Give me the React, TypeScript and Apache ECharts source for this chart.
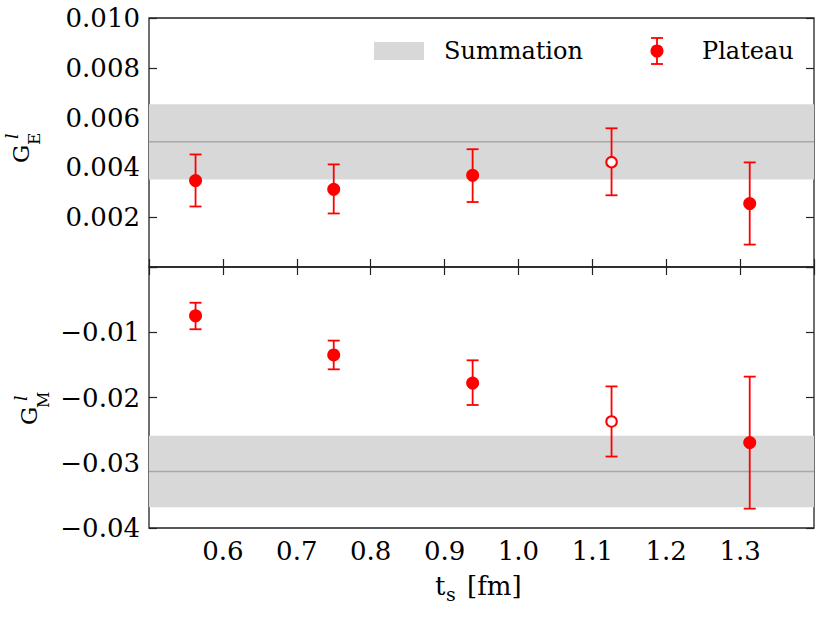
import React, { useEffect, useRef } from "react";
import * as echarts from "echarts";

// ---- data ----
const tsValues = [0.563, 0.75, 0.938, 1.126, 1.313];
const geValues = [0.00347, 0.00312, 0.00368, 0.00421, 0.00255];
const geLower = [0.00243, 0.00215, 0.00261, 0.00288, 0.0009];
const geUpper = [0.00452, 0.00412, 0.00473, 0.00557, 0.0042];
const gmValues = [-0.00748, -0.01347, -0.01778, -0.02367, -0.0269];
const gmLower = [-0.00954, -0.01568, -0.02115, -0.02905, -0.03703];
const gmUpper = [-0.00548, -0.01128, -0.0143, -0.0183, -0.0168];
const openIndex = [3]; // hollow (excluded) point
// summation band: [lower, central, upper]
const summationGE = [0.00351, 0.00503, 0.00654];
const summationGM = [-0.03682, -0.03135, -0.02587];

const xMin = 0.5;
const xMax = 1.4;

const FONT = "DejaVu Serif";
const RED = "#ff0000";
const BAND = "#d8d8d8";
const BAND_LINE = "#a8a8a8";

function bandSeries(idx: number, band: number[]) {
  return {
    type: "custom",
    xAxisIndex: idx === 0 ? 0 : 1,
    yAxisIndex: idx === 0 ? 0 : 2,
    z: 1,
    data: [band],
    renderItem: (params: any, api: any) => {
      const cs = params.coordSys;
      const yLo = api.coord([xMin, api.value(0)])[1];
      const yC = api.coord([xMin, api.value(1)])[1];
      const yHi = api.coord([xMin, api.value(2)])[1];
      return {
        type: "group",
        children: [
          {
            type: "rect",
            shape: { x: cs.x, y: yHi, width: cs.width, height: yLo - yHi },
            style: { fill: BAND },
          },
          {
            type: "line",
            shape: { x1: cs.x, y1: yC, x2: cs.x + cs.width, y2: yC },
            style: { stroke: BAND_LINE, lineWidth: 1.5 },
          },
        ],
      };
    },
  };
}

function errorSeries(idx: number, lower: number[], upper: number[]) {
  return {
    type: "custom",
    xAxisIndex: idx === 0 ? 0 : 1,
    yAxisIndex: idx === 0 ? 0 : 2,
    z: 3,
    encode: { x: 0, y: [1, 2] },
    data: tsValues.map((t, i) => [t, lower[i], upper[i]]),
    renderItem: (params: any, api: any) => {
      const top = api.coord([api.value(0), api.value(2)]);
      const bot = api.coord([api.value(0), api.value(1)]);
      const hw = 6;
      const st = { stroke: RED, lineWidth: 1.8 };
      return {
        type: "group",
        children: [
          { type: "line", shape: { x1: top[0], y1: top[1], x2: bot[0], y2: bot[1] }, style: st },
          { type: "line", shape: { x1: top[0] - hw, y1: top[1], x2: top[0] + hw, y2: top[1] }, style: st },
          { type: "line", shape: { x1: bot[0] - hw, y1: bot[1], x2: bot[0] + hw, y2: bot[1] }, style: st },
        ],
      };
    },
  };
}

function pointSeries(idx: number, values: number[]) {
  const filled = tsValues
    .map((t, i) => [t, values[i], i])
    .filter((d) => !openIndex.includes(d[2] as number))
    .map((d) => [d[0], d[1]]);
  const hollow = tsValues
    .map((t, i) => [t, values[i], i])
    .filter((d) => openIndex.includes(d[2] as number))
    .map((d) => [d[0], d[1]]);
  const xa = idx === 0 ? 0 : 1;
  const ya = idx === 0 ? 0 : 2;
  return [
    {
      type: "scatter",
      name: "Plateau",
      xAxisIndex: xa,
      yAxisIndex: ya,
      z: 4,
      symbol: "circle",
      symbolSize: 13,
      itemStyle: { color: RED, opacity: 1 },
      data: filled,
    },
    {
      type: "scatter",
      xAxisIndex: xa,
      yAxisIndex: ya,
      z: 4,
      symbol: "circle",
      symbolSize: 10.5,
      itemStyle: { color: "#ffffff", borderColor: RED, borderWidth: 2, opacity: 1 },
      data: hollow,
    },
  ];
}

const tickStyle = { inside: true, length: 8, lineStyle: { color: "#222", width: 1.2 } };
const labelStyle = { fontFamily: FONT, fontSize: 26, color: "#000" };

function yName(x: number, y: number, sub: string, subSize: number, subX: number, subY: number, supY: number) {
  return {
    type: "group", x, y, rotation: Math.PI / 2, z: 10,
    children: [
      { type: "text", x: 0, y: 0, style: { text: "G", fontFamily: FONT, fontSize: 23, fill: "#000", verticalAlign: "middle", align: "left" } },
      { type: "text", x: subX, y: subY, style: { text: sub, fontFamily: FONT, fontSize: subSize, fill: "#000", verticalAlign: "middle", align: "left" } },
      { type: "text", x: 24, y: supY, style: { text: "l", fontFamily: FONT, fontSize: 17, fontStyle: "italic", fill: "#000", verticalAlign: "middle", align: "left" } },
    ],
  };
}

export default function App() {
  const ref = useRef<HTMLDivElement>(null);
  useEffect(() => {
    if (!ref.current) return;
    const chart = echarts.init(ref.current, undefined, { renderer: "svg" });
    const option: any = {
      animation: false,
      backgroundColor: "#ffffff",
      grid: [
        { left: 149, top: 18, width: 665, height: 249, show: true, borderColor: "#222", borderWidth: 1.3, backgroundColor: "transparent" },
        { left: 149, top: 267, width: 665, height: 261, show: true, borderColor: "#222", borderWidth: 1.3, backgroundColor: "transparent" },
      ],
      xAxis: [
        {
          gridIndex: 0, type: "value", min: xMin, max: xMax, interval: 0.1,
          axisLine: { show: false }, axisTick: { show: false }, axisLabel: { show: false }, splitLine: { show: false },
        },
        {
          gridIndex: 1, type: "value", min: xMin, max: xMax, interval: 0.1, position: "bottom",
          axisLine: { show: false }, axisTick: tickStyle, splitLine: { show: false },
          axisLabel: {
            ...labelStyle, margin: 10,
            formatter: (v: number) => (Math.abs(v - xMin) < 1e-9 || Math.abs(v - xMax) < 1e-9 ? "" : v.toFixed(1)),
          },
        },
        {
          gridIndex: 1, type: "value", min: xMin, max: xMax, interval: 0.1, position: "top",
          axisLine: { show: false }, axisTick: tickStyle, axisLabel: { show: false }, splitLine: { show: false },
        },
      ],
      yAxis: [
        {
          gridIndex: 0, type: "value", min: 0, max: 0.01, interval: 0.002, position: "left",
          axisLine: { show: false }, axisTick: tickStyle, splitLine: { show: false },
          axisLabel: { ...labelStyle, margin: 9, showMaxLabel: true, formatter: (v: number) => (Math.abs(v) < 1e-9 ? "" : v.toFixed(3)) },
        },
        {
          gridIndex: 0, type: "value", min: 0, max: 0.01, interval: 0.002, position: "right",
          axisLine: { show: false }, axisTick: tickStyle, axisLabel: { show: false }, splitLine: { show: false },
        },
        {
          gridIndex: 1, type: "value", min: -0.04, max: 0, interval: 0.01, position: "left",
          axisLine: { show: false }, axisTick: tickStyle, splitLine: { show: false },
          axisLabel: {
            ...labelStyle, margin: 9, showMinLabel: true,
            formatter: (v: number) => (Math.abs(v) < 1e-9 ? "" : "\u2212" + Math.abs(v).toFixed(2)),
          },
        },
        {
          gridIndex: 1, type: "value", min: -0.04, max: 0, interval: 0.01, position: "right",
          axisLine: { show: false }, axisTick: tickStyle, axisLabel: { show: false }, splitLine: { show: false },
        },
      ],
      series: [
        bandSeries(0, summationGE),
        bandSeries(1, summationGM),
        errorSeries(0, geLower, geUpper),
        errorSeries(1, gmLower, gmUpper),
        ...pointSeries(0, geValues),
        ...pointSeries(1, gmValues),
      ],
      graphic: [
        // legend
        { type: "rect", shape: { x: 374, y: 42, width: 50, height: 18 }, style: { fill: BAND }, z: 10 },
        { type: "text", x: 444, y: 51, style: { text: "Summation", fontFamily: FONT, fontSize: 24, fill: "#000", verticalAlign: "middle", align: "left" }, z: 10 },
        { type: "line", shape: { x1: 657, y1: 38, x2: 657, y2: 64 }, style: { stroke: RED, lineWidth: 1.8 }, z: 10 },
        { type: "line", shape: { x1: 651, y1: 38, x2: 663, y2: 38 }, style: { stroke: RED, lineWidth: 1.8 }, z: 10 },
        { type: "line", shape: { x1: 651, y1: 64, x2: 663, y2: 64 }, style: { stroke: RED, lineWidth: 1.8 }, z: 10 },
        { type: "circle", shape: { cx: 657, cy: 51, r: 6.5 }, style: { fill: RED }, z: 10 },
        { type: "text", x: 702, y: 51, style: { text: "Plateau", fontFamily: FONT, fontSize: 24, fill: "#000", verticalAlign: "middle", align: "left" }, z: 10 },
        // y axis names
        yName(21, 163, "E", 17, 18, 13, -9),
        yName(29, 425, "M", 16, 17, 14, -8),
        // x axis name
        { type: "text", x: 435, y: 599, style: { text: "t", fontFamily: FONT, fontSize: 26, fill: "#000", verticalAlign: "bottom", align: "left" }, z: 10 },
        { type: "text", x: 446, y: 603, style: { text: "s", fontFamily: FONT, fontSize: 19, fill: "#000", verticalAlign: "bottom", align: "left" }, z: 10 },
        { type: "text", x: 467, y: 599, style: { text: "[fm]", fontFamily: FONT, fontSize: 26, fill: "#000", verticalAlign: "bottom", align: "left" }, z: 10 },
      ],
    };
    chart.setOption(option);
    return () => chart.dispose();
  }, []);
  return <div ref={ref} style={{ position: "absolute", left: 0, top: 0, width: 830, height: 623 }} />;
}
